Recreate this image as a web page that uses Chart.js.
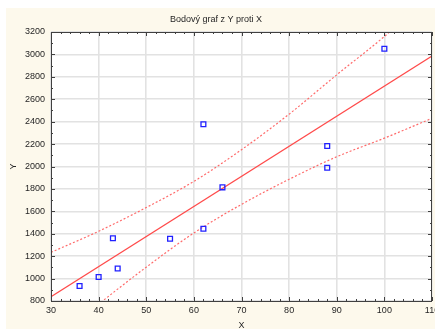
<!DOCTYPE html>
<html>
<head>
<meta charset="utf-8">
<script src="https://cdn.jsdelivr.net/npm/chart.js@4/dist/chart.umd.min.js"></script>
<style>
  body { margin: 0; background: #ffffff; }
  canvas { display: block; }
</style>
</head>
<body>
<canvas id="chart" width="435" height="329"></canvas>
<script>
// scatter points
const xValues = [36, 40, 43, 44, 55, 62, 62, 66, 88, 88, 100];
const yValues = [934, 1014, 1360, 1090, 1355, 2377, 1445, 1814, 2183, 1989, 3050];

// fitted line (read at both ends)
const fitX = [30, 110];
const fitY = [838, 2986];

// confidence band, read at the grid lines
const bandX = [30, 40, 50, 60, 70, 80, 90, 100, 110];
const upperBand = [1234, 1422, 1634, 1867, 2150, 2467, 2818, 3160, 3540];
const lowerBand = [430, 772, 1102, 1407, 1662, 1886, 2087, 2253, 2430];

const FONT = 'Liberation Sans, Arial, sans-serif';
const TEXT = '#262626';

function pairs(xs, ys) {
    return xs.map((x, i) => ({ x: x, y: ys[i] }));
}

const framePlugin = {
    id: 'frame',
    beforeDraw(chart) {
        const ctx = chart.ctx;
        const a = chart.chartArea;
        ctx.save();
        ctx.fillStyle = '#ffffff';
        ctx.fillRect(0, 0, chart.width, chart.height);
        ctx.fillStyle = '#fdf9ec';
        ctx.fillRect(6, 8, chart.width - 6, chart.height - 8);
        ctx.fillStyle = '#ffffff';
        ctx.fillRect(a.left, a.top, a.right - a.left, a.bottom - a.top);
        ctx.restore();
    },
    afterDatasetsDraw(chart) {
        const ctx = chart.ctx;
        const a = chart.chartArea;
        const xs = chart.scales.x, ys = chart.scales.y;
        ctx.save();
        ctx.strokeStyle = '#404040';
        ctx.lineWidth = 1;
        ctx.beginPath();
        // minor/major ticks pointing inward
        for (let v = 30; v <= 110; v += 2) {
            const px = Math.round(xs.getPixelForValue(v)) + 0.5;
            const len = v % 10 === 0 ? 4 : 2;
            ctx.moveTo(px, a.top); ctx.lineTo(px, a.top + len);
            ctx.moveTo(px, a.bottom); ctx.lineTo(px, a.bottom - len);
        }
        for (let v = 800; v <= 3200; v += 100) {
            const py = Math.round(ys.getPixelForValue(v)) + 0.5;
            const len = v % 200 === 0 ? 4 : 2;
            ctx.moveTo(a.left, py); ctx.lineTo(a.left + len, py);
            ctx.moveTo(a.right, py); ctx.lineTo(a.right - len, py);
        }
        ctx.stroke();
        ctx.strokeRect(a.left + 0.5, a.top + 0.5, a.right - a.left - 1, a.bottom - a.top);
        ctx.restore();
    }
};

new Chart(document.getElementById('chart'), {
    type: 'scatter',
    data: {
        datasets: [
            {
                label: 'data',
                data: pairs(xValues, yValues),
                pointStyle: 'rect',
                pointRadius: 3.4,
                borderColor: '#2020ff',
                backgroundColor: 'rgba(0,0,0,0)',
                borderWidth: 1.3,
                clip: 0
            },
            {
                label: 'fit',
                data: pairs(fitX, fitY),
                showLine: true,
                pointRadius: 0,
                borderColor: '#ff4a4a',
                borderWidth: 1.2,
                clip: 0
            },
            {
                label: 'upper',
                data: pairs(bandX, upperBand),
                showLine: true,
                pointRadius: 0,
                cubicInterpolationMode: 'monotone',
                borderColor: '#ff6a6a',
                borderDash: [2, 2],
                borderWidth: 1.2,
                clip: 0
            },
            {
                label: 'lower',
                data: pairs(bandX, lowerBand),
                showLine: true,
                pointRadius: 0,
                cubicInterpolationMode: 'monotone',
                borderColor: '#ff6a6a',
                borderDash: [2, 2],
                borderWidth: 1.2,
                clip: 0
            }
        ]
    },
    options: {
        responsive: false,
        animation: false,
        layout: { autoPadding: false, padding: { left: 0, right: 3, top: 0, bottom: 0 } },
        plugins: {
            legend: { display: false },
            tooltip: { enabled: false },
            title: {
                display: true,
                text: 'Bodový graf z Y proti X',
                color: TEXT,
                font: { family: FONT, size: 9, weight: 'normal' },
                padding: { top: 14.6, bottom: 6.6 }
            }
        },
        scales: {
            x: {
                type: 'linear',
                min: 30,
                max: 110,
                ticks: {
                    stepSize: 10,
                    color: TEXT,
                    padding: 4,
                    maxRotation: 0,
                    font: { family: FONT, size: 9 },
                    callback: v => String(v)
                },
                grid: { color: '#e2e2e2', lineWidth: 1.6, drawTicks: false },
                border: { display: false },
                title: {
                    display: true,
                    text: 'X',
                    color: TEXT,
                    font: { family: FONT, size: 9 },
                    padding: { top: 0, bottom: -2 }
                },
                afterFit(scale) {
                    scale.height = 28;
                    scale.paddingLeft = 0;
                    scale.paddingRight = 0;
                }
            },
            y: {
                min: 800,
                max: 3200,
                ticks: {
                    stepSize: 200,
                    color: TEXT,
                    padding: 6,
                    font: { family: FONT, size: 9 },
                    callback: v => String(v)
                },
                grid: { color: '#e2e2e2', lineWidth: 1.6, drawTicks: false },
                border: { display: false },
                title: {
                    display: true,
                    text: 'Y',
                    color: TEXT,
                    font: { family: FONT, size: 9 },
                    padding: { top: 8.6, bottom: 0 }
                },
                afterFit(scale) {
                    scale.width = 51;
                    scale.paddingTop = 0;
                    scale.paddingBottom = 0;
                }
            }
        }
    },
    plugins: [framePlugin]
});
</script>
</body>
</html>
